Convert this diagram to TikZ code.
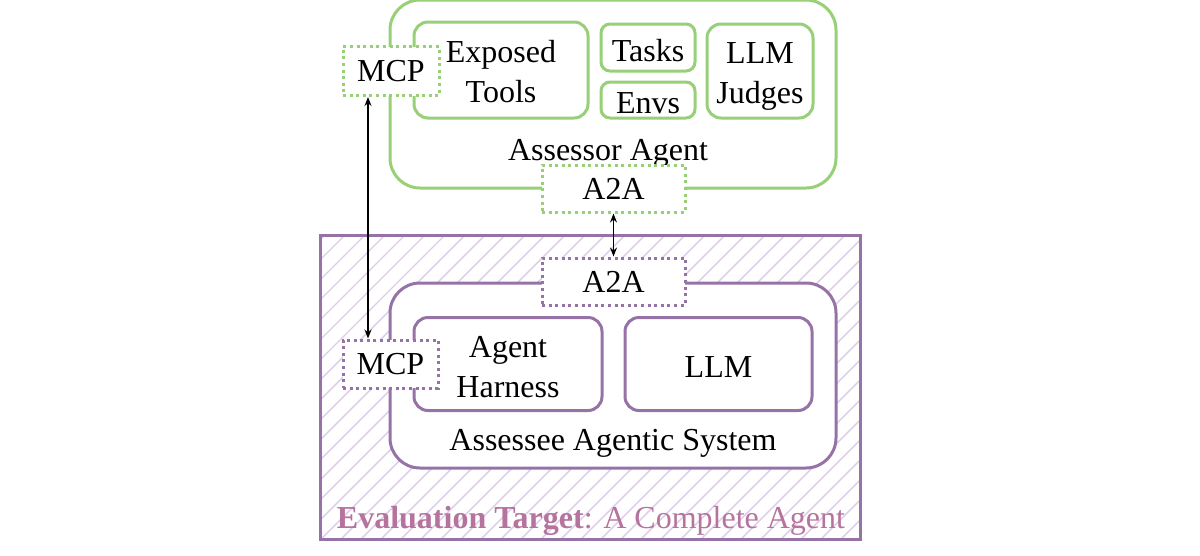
\documentclass[tikz,border=0pt]{standalone}
\usepackage{fontspec}
\setmainfont{Liberation Serif}
\usetikzlibrary{arrows.meta}
\definecolor{gr}{RGB}{151,208,119}
\definecolor{pu}{RGB}{150,115,166}
\definecolor{hat}{RGB}{220,205,230}
\definecolor{pk}{RGB}{181,115,157}
\tikzset{
  box/.style={draw, line width=3pt, fill=white, rounded corners=14pt, inner sep=0pt, align=center},
  bigbox/.style={draw, line width=3pt, fill=white, rounded corners=30pt, inner sep=0pt},
  port/.style={draw, line width=3pt, fill=white, dash pattern=on 3pt off 3.6pt, inner sep=0pt, align=center},
  txt/.style={inner sep=0pt, align=center},
  line/.style={text height=27.5pt, text depth=0pt},
  link/.style={{Stealth[length=9pt,width=7pt]}-{Stealth[length=9pt,width=7pt]}, line width=1.3pt, black}
}
\begin{document}
\begin{tikzpicture}[x=1pt,y=-1pt, font=\fontsize{32}{40}\selectfont]
\useasboundingbox (0,0) rectangle (1200,555);
% Evaluation target hatched region
\begin{scope}
\clip (320,235) rectangle (860,539);
\foreach \i in {0,...,45} {
  \draw[hat, line width=1.4pt] (15+\i*20,545) -- (15+\i*20+320,225);
}
\end{scope}
\node[draw=pu, line width=3pt, minimum width=540pt, minimum height=304pt, inner sep=0pt] (eval) at (590,387) {};
\node[txt, text=pk, anchor=base] (evallbl) at (591,528) {\textbf{Evaluation Target}: A Complete Agent};

% Assessee agentic system
\node[bigbox, draw=pu, minimum width=446pt, minimum height=185pt] (assessee) at (613,375.5) {};
\node[txt] (assesseelbl) at (613,443) {Assessee Agentic System};
\node[box, draw=pu, minimum width=188pt, minimum height=93pt] (harness) at (508,364) {};
\node[txt] (harnesslbl) at (508,367) {Agent\\Harness};
\node[box, draw=pu, line, minimum width=187pt, minimum height=93pt] (llm) at (718.5,364) {LLM};
\node[port, draw=pu, minimum width=95pt, minimum height=48pt] (mcpB) at (390.5,364) {MCP};
\node[port, draw=pu, minimum width=143pt, minimum height=47pt] (a2aB) at (613.5,281.5) {A2A};

% Assessor agent
\node[bigbox, draw=gr, minimum width=446pt, minimum height=188pt] (assessor) at (613,94) {};
\node[txt] (assessorlbl) at (608,153) {Assessor Agent};
\node[box, draw=gr, minimum width=174pt, minimum height=96pt] (tools) at (501,70) {};
\node[txt] (toolslbl) at (501,72) {Exposed\\Tools};
\node[box, draw=gr, line, minimum width=94pt, minimum height=47pt, rounded corners=9pt] (tasks) at (648,47.5) {Tasks};
\node[box, draw=gr, line, minimum width=94pt, minimum height=36pt, rounded corners=9pt] (envs) at (648,100) {Envs};
\node[box, draw=gr, minimum width=106pt, minimum height=94pt] (judges) at (760,71) {};
\node[txt] (judgeslbl) at (760,76.5) {LLM\\Judges};
\node[port, draw=gr, minimum width=96pt, minimum height=49pt] (mcpT) at (391,71) {MCP};
\node[port, draw=gr, minimum width=143pt, minimum height=47pt] (a2aT) at (613.5,188.5) {A2A};

% connectors
\draw[link] ([xshift=-23pt]mcpT.south) -- ([xshift=-22.5pt]mcpB.north);
\draw[link] (a2aT.south) -- (a2aB.north);
\end{tikzpicture}
\end{document}
